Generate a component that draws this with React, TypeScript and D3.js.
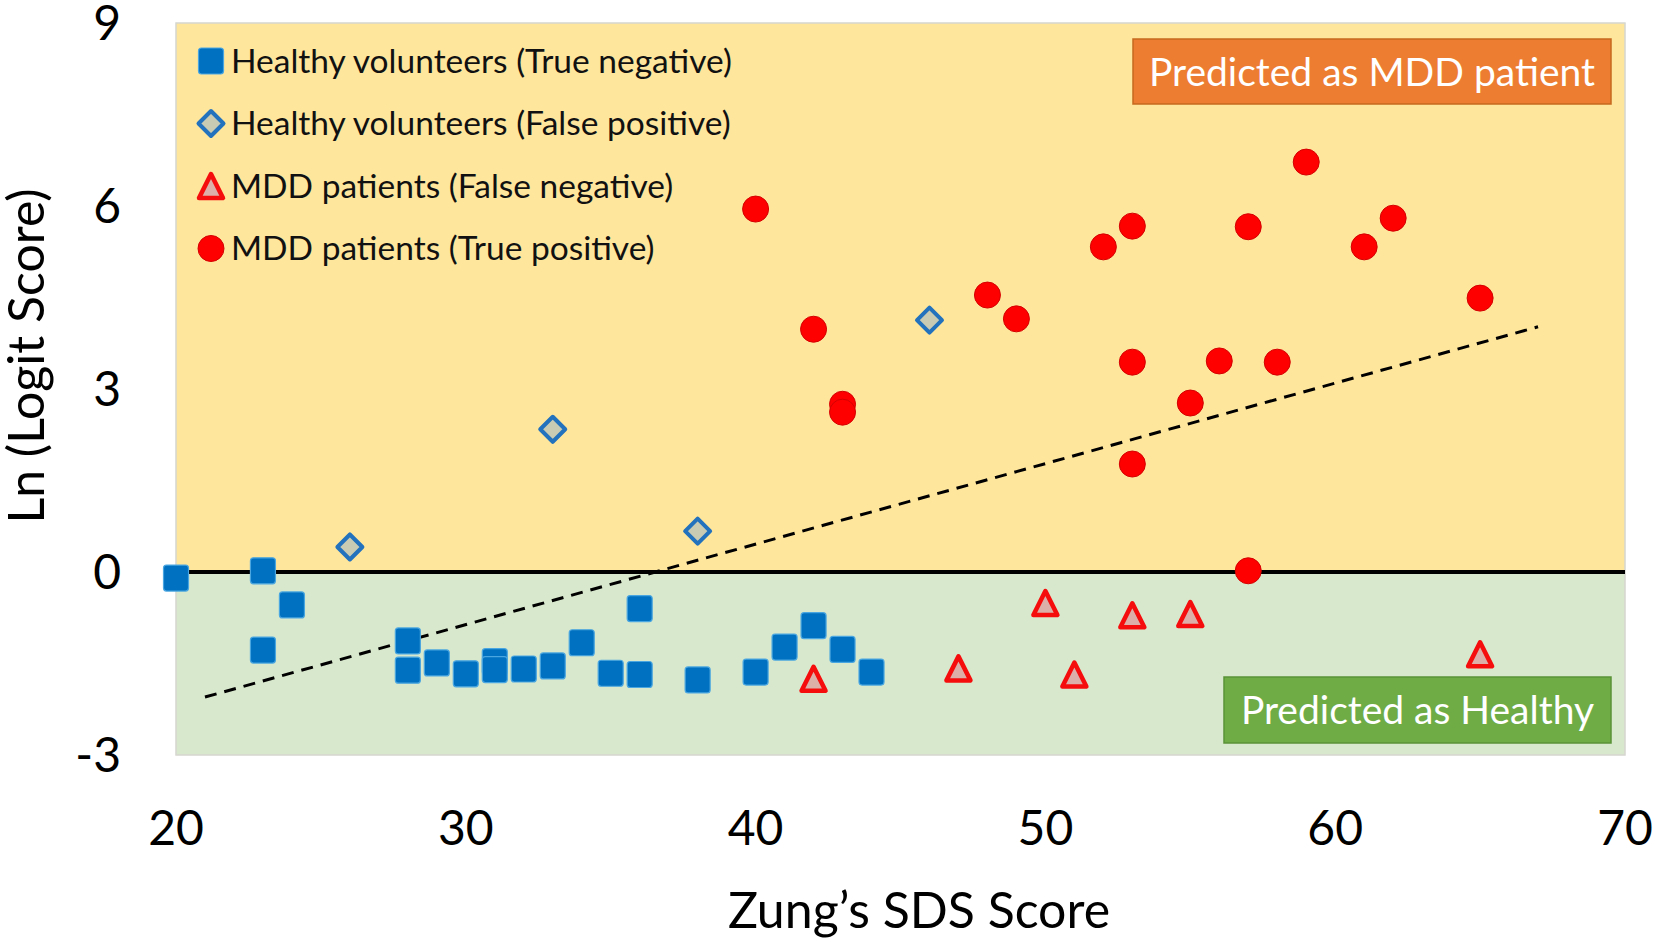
import React, { useEffect, useRef } from 'react';
import * as d3 from 'd3';

// Zung's SDS score (x) vs Ln(logit score) (y), per group
const trueNegX = [20, 23, 23, 24, 28, 28, 29, 30, 31, 31, 32, 33, 34, 35, 36, 36, 38, 40, 41, 42, 43, 44];
const trueNegY = [-0.1, 0.02, -1.28, -0.54, -1.13, -1.61, -1.49, -1.67, -1.47, -1.6, -1.59, -1.54, -1.16, -1.66, -0.6, -1.68, -1.77, -1.64, -1.23, -0.88, -1.27, -1.64];

const falsePosX = [26, 33, 38, 46];
const falsePosY = [0.41, 2.34, 0.67, 4.13];

const falseNegX = [42, 47, 50, 51, 53, 55, 65];
const falseNegY = [-1.75, -1.58, -0.51, -1.68, -0.71, -0.69, -1.35];

const truePosX = [40, 42, 43, 43, 48, 49, 52, 53, 53, 53, 55, 56, 57, 57, 58, 59, 61, 62, 65];
const truePosY = [5.95, 3.98, 2.75, 2.62, 4.54, 4.15, 5.33, 5.67, 3.44, 1.77, 2.77, 3.46, 5.66, 0.02, 3.44, 6.72, 5.33, 5.8, 4.49];

// dashed trend line end points
const trendX = [21, 67];
const trendY = [-2.05, 4.02];

const xTicks = [20, 30, 40, 50, 60, 70];
const yTicks = [-3, 0, 3, 6, 9];

const legendLabels = [
  'Healthy volunteers (True negative)',
  'Healthy volunteers (False positive)',
  'MDD patients (False negative)',
  'MDD patients (True positive)'
];

const W = 1655;
const H = 944;
const FONT = "Lato, 'Open Sans', sans-serif";

export default function App() {
  const svgRef = useRef<SVGSVGElement>(null);

  useEffect(() => {
    document.body.style.margin = '0';
    if (!svgRef.current) return;
    const svg = d3.select(svgRef.current);
    svg.selectAll('*').remove();

    const x = d3.scaleLinear().domain([20, 70]).range([176, 1625]);
    const y = d3.scaleLinear().domain([-3, 9]).range([755, 23]);

    // background bands
    svg.append('rect')
      .attr('x', x(20)).attr('y', y(9))
      .attr('width', x(70) - x(20)).attr('height', y(0) - y(9))
      .attr('fill', '#fee69d');
    svg.append('rect')
      .attr('x', x(20)).attr('y', y(0))
      .attr('width', x(70) - x(20)).attr('height', y(-3) - y(0))
      .attr('fill', '#d8e8cc');
    svg.append('rect')
      .attr('x', x(20)).attr('y', y(9))
      .attr('width', x(70) - x(20)).attr('height', y(-3) - y(9))
      .attr('fill', 'none')
      .attr('stroke', '#d6d6d0')
      .attr('stroke-width', 1.5);

    // zero line
    svg.append('line')
      .attr('x1', x(20)).attr('x2', x(70))
      .attr('y1', y(0)).attr('y2', y(0))
      .attr('stroke', '#000').attr('stroke-width', 4);

    // trend line
    const trend = trendX.map((v, i) => [v, trendY[i]] as [number, number]);
    svg.append('path')
      .datum(trend)
      .attr('d', d3.line().x(d => x(d[0])).y(d => y(d[1])) as any)
      .attr('fill', 'none')
      .attr('stroke', '#000')
      .attr('stroke-width', 3)
      .attr('stroke-dasharray', '12,8');

    // marker drawers
    const drawSquare = (g: any, cx: number, cy: number) => {
      g.append('rect')
        .attr('x', cx - 12.5).attr('y', cy - 13)
        .attr('width', 25).attr('height', 26)
        .attr('rx', 3)
        .attr('fill', '#0070c0')
        .attr('stroke', '#4aa6e0')
        .attr('stroke-width', 1.2);
    };
    const drawDiamond = (g: any, cx: number, cy: number) => {
      const r = 12.5;
      g.append('path')
        .attr('d', `M${cx},${cy - r}L${cx + r},${cy}L${cx},${cy + r}L${cx - r},${cy}Z`)
        .attr('fill', '#c9cbb2')
        .attr('stroke', '#2272bd')
        .attr('stroke-width', 4)
        .attr('stroke-linejoin', 'round');
    };
    const drawTriangle = (g: any, cx: number, cy: number) => {
      const w = 12, h = 12;
      g.append('path')
        .attr('d', `M${cx},${cy - h}L${cx + w},${cy + h}L${cx - w},${cy + h}Z`)
        .attr('fill', '#dcb0a8')
        .attr('stroke', '#f50d0d')
        .attr('stroke-width', 4.5)
        .attr('stroke-linejoin', 'round');
    };
    const drawCircle = (g: any, cx: number, cy: number) => {
      g.append('circle')
        .attr('cx', cx).attr('cy', cy).attr('r', 13)
        .attr('fill', '#ff0000')
        .attr('stroke', '#d40000')
        .attr('stroke-width', 1);
    };

    const pts = svg.append('g');
    trueNegX.forEach((v, i) => drawSquare(pts, x(v), y(trueNegY[i])));
    falsePosX.forEach((v, i) => drawDiamond(pts, x(v), y(falsePosY[i])));
    falseNegX.forEach((v, i) => drawTriangle(pts, x(v), y(falseNegY[i])));
    truePosX.forEach((v, i) => drawCircle(pts, x(v), y(truePosY[i])));

    // legend
    const drawers = [drawSquare, drawDiamond, drawTriangle, drawCircle];
    const lg = svg.append('g');
    legendLabels.forEach((label, i) => {
      const cy = 61 + i * 62.5;
      drawers[i](lg, 211, cy);
      lg.append('text')
        .attr('x', 231).attr('y', cy)
        .attr('dy', '0.35em')
        .attr('font-family', FONT)
        .attr('font-size', 33.5)
        .attr('fill', '#111')
        .text(label);
    });

    // prediction boxes
    const boxes = [
      { x0: 1133, y0: 39, x1: 1611, y1: 104, fill: '#ed7d31', stroke: '#c5691f', label: 'Predicted as MDD patient' },
      { x0: 1224, y0: 677, x1: 1611, y1: 743, fill: '#6fac46', stroke: '#5a9237', label: 'Predicted as Healthy' }
    ];
    boxes.forEach(b => {
      svg.append('rect')
        .attr('x', b.x0).attr('y', b.y0)
        .attr('width', b.x1 - b.x0).attr('height', b.y1 - b.y0)
        .attr('fill', b.fill)
        .attr('stroke', b.stroke)
        .attr('stroke-width', 1.5);
      svg.append('text')
        .attr('x', (b.x0 + b.x1) / 2).attr('y', (b.y0 + b.y1) / 2)
        .attr('dy', '0.36em')
        .attr('text-anchor', 'middle')
        .attr('font-family', FONT)
        .attr('font-size', 39)
        .attr('fill', '#fff')
        .text(b.label);
    });

    // axes tick labels
    svg.append('g').selectAll('text')
      .data(xTicks)
      .join('text')
      .attr('x', d => x(d))
      .attr('y', 828)
      .attr('dy', '0.36em')
      .attr('text-anchor', 'middle')
      .attr('font-family', FONT)
      .attr('font-size', 48)
      .attr('fill', '#000')
      .text(d => d);

    svg.append('g').selectAll('text')
      .data(yTicks)
      .join('text')
      .attr('x', 121)
      .attr('y', d => y(d))
      .attr('dy', '0.36em')
      .attr('text-anchor', 'end')
      .attr('font-family', FONT)
      .attr('font-size', 48)
      .attr('fill', '#000')
      .text(d => d);

    // axis titles
    svg.append('text')
      .attr('x', 919).attr('y', 910)
      .attr('dy', '0.36em')
      .attr('text-anchor', 'middle')
      .attr('font-family', FONT)
      .attr('font-size', 50)
      .attr('fill', '#000')
      .text('Zung’s SDS Score');

    svg.append('text')
      .attr('transform', `translate(44, 356) rotate(-90)`)
      .attr('text-anchor', 'middle')
      .attr('font-family', FONT)
      .attr('font-size', 50)
      .attr('fill', '#000')
      .text('Ln (Logit Score)');
  }, []);

  return (
    <svg
      ref={svgRef}
      width={W}
      height={H}
      viewBox={`0 0 ${W} ${H}`}
      style={{ display: 'block', background: '#fff' }}
    />
  );
}
